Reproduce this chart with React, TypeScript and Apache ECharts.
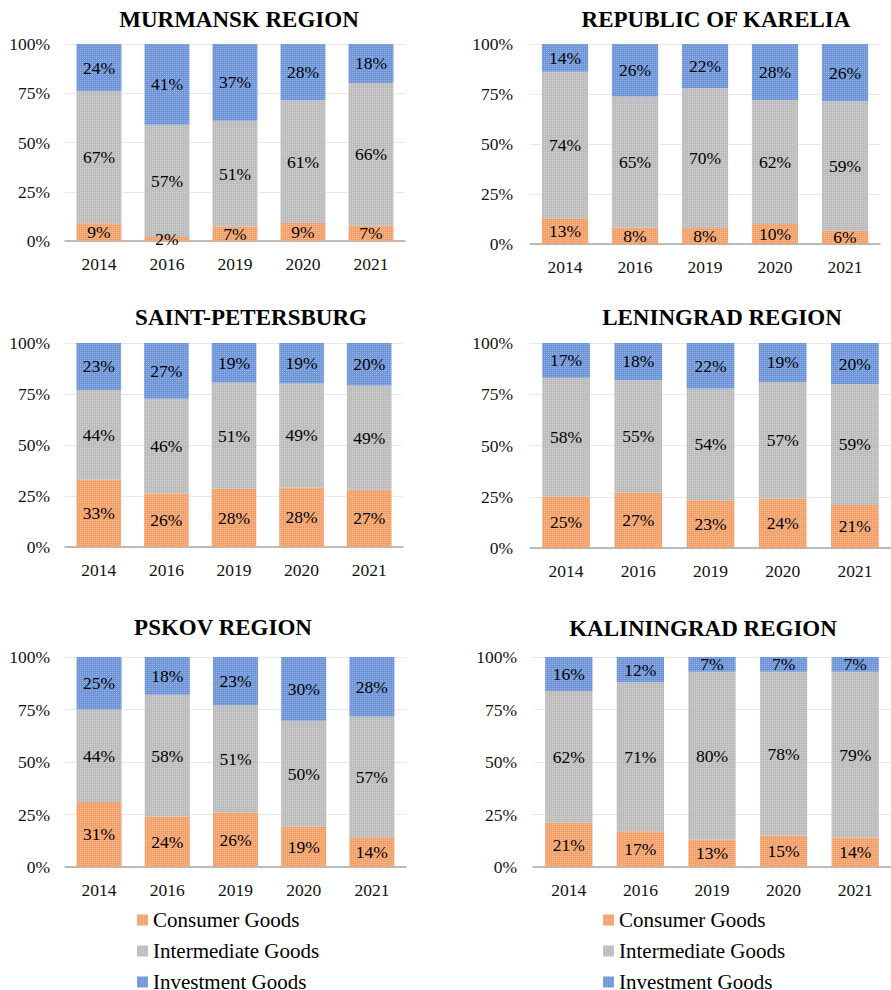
import React, { useEffect, useRef } from "react";
import * as echarts from "echarts";

const years = ["2014", "2016", "2019", "2020", "2021"];
const regions = [
  "MURMANSK REGION",
  "REPUBLIC OF KARELIA",
  "SAINT-PETERSBURG",
  "LENINGRAD REGION",
  "PSKOV REGION",
  "KALININGRAD REGION",
];
const seriesNames = ["Consumer Goods", "Intermediate Goods", "Investment Goods"];
const consumer = [
  [9, 2, 7, 9, 7],
  [13, 8, 8, 10, 6],
  [33, 26, 28, 28, 27],
  [25, 27, 23, 24, 21],
  [31, 24, 26, 19, 14],
  [21, 17, 13, 15, 14],
];
const intermediate = [
  [67, 57, 51, 61, 66],
  [74, 65, 70, 62, 59],
  [44, 46, 51, 49, 49],
  [58, 55, 54, 57, 59],
  [44, 58, 51, 50, 57],
  [62, 71, 80, 78, 79],
];
const investment = [
  [24, 41, 37, 28, 18],
  [14, 26, 22, 28, 26],
  [23, 27, 19, 19, 20],
  [17, 18, 22, 19, 20],
  [25, 18, 23, 30, 28],
  [16, 12, 7, 7, 7],
];
const yTicks = [0, 25, 50, 75, 100];

const colors = ["#F3A16B", "#BCBCBC", "#6E95D8"];
const FONT = "Liberation Serif, Times New Roman, serif";

const grids = [
  { left: 65, top: 44, width: 340, height: 197, title: [239, 19], margin: 15 },
  { left: 530, top: 44, width: 350, height: 200, title: [716, 19], margin: 17 },
  { left: 65, top: 343, width: 338, height: 204, title: [251, 317], margin: 15 },
  { left: 530, top: 343, width: 361, height: 205, title: [722, 317], margin: 17 },
  { left: 65, top: 657, width: 341, height: 210, title: [223, 627], margin: 15 },
  { left: 533, top: 657, width: 365, height: 210, title: [703, 628], margin: 16 },
];

export default function App() {
  const ref = useRef<HTMLDivElement>(null);
  useEffect(() => {
    document.body.style.margin = "0";
    if (!ref.current) return;
    const chart = echarts.init(ref.current, undefined, { renderer: "svg" });
    const groups = [consumer, intermediate, investment];
    const series: any[] = [];
    regions.forEach((_, p) => {
      const sums = years.map((_, i) => consumer[p][i] + intermediate[p][i] + investment[p][i]);
      groups.forEach((g, s) => {
        series.push({
          type: "bar",
          name: seriesNames[s],
          stack: "p" + p,
          xAxisIndex: p,
          yAxisIndex: p,
          barWidth: "66%",
          itemStyle: {
            color: colors[s],
            decal: {
              symbol: "rect",
              symbolSize: 1,
              dashArrayX: [1, 1],
              dashArrayY: [1, 1],
              color: "rgba(255,255,255,0.28)",
            },
          },
          label: {
            show: true,
            position: "inside",
            color: "#000",
            fontFamily: FONT,
            fontSize: 17.5,
            formatter: (d: any) => g[p][d.dataIndex] + "%",
          },
          data: years.map((_, i) => (g[p][i] / sums[i]) * 100),
        });
      });
    });
    const legendBase = {
      orient: "vertical",
      top: 909.5,
      height: 150,
      padding: 0,
      itemWidth: 11,
      itemHeight: 11,
      itemGap: 10,
      icon: "rect",
      data: seriesNames,
      selectedMode: false,
      textStyle: { fontFamily: FONT, fontSize: 21, lineHeight: 21, color: "#000" },
    };
    chart.setOption({
      animation: false,
      backgroundColor: "#fff",
      textStyle: { fontFamily: FONT },
      legend: [
        { ...legendBase, left: 137 },
        { ...legendBase, left: 603 },
      ],
      grid: grids.map((g) => ({ left: g.left, top: g.top, width: g.width, height: g.height })),
      xAxis: grids.map((_, i) => ({
        type: "category",
        gridIndex: i,
        data: years,
        axisTick: { show: false },
        axisLine: { show: true, lineStyle: { color: "#A8A8A8", width: 1.5 } },
        axisLabel: { color: "#111", fontFamily: FONT, fontSize: 17.5, margin: 14 },
      })),
      yAxis: grids.map((g, i) => ({
        type: "value",
        gridIndex: i,
        min: yTicks[0],
        max: yTicks[yTicks.length - 1],
        interval: 25,
        axisLine: { show: false },
        axisTick: { show: false },
        splitLine: { lineStyle: { color: "#E8E8E8", width: 1 } },
        axisLabel: {
          color: "#111",
          fontFamily: FONT,
          fontSize: 17.5,
          margin: g.margin,
          formatter: "{value}%",
        },
      })),
      graphic: grids.map((g, i) => ({
        type: "text",
        x: g.title[0],
        y: g.title[1],
        style: {
          text: regions[i],
          fontFamily: FONT,
          fontWeight: "bold",
          fontSize: 23,
          fill: "#000",
          align: "center",
          verticalAlign: "middle",
        },
      })),
      series,
    });
    return () => chart.dispose();
  }, []);
  return <div ref={ref} style={{ width: 891, height: 990 }} />;
}
